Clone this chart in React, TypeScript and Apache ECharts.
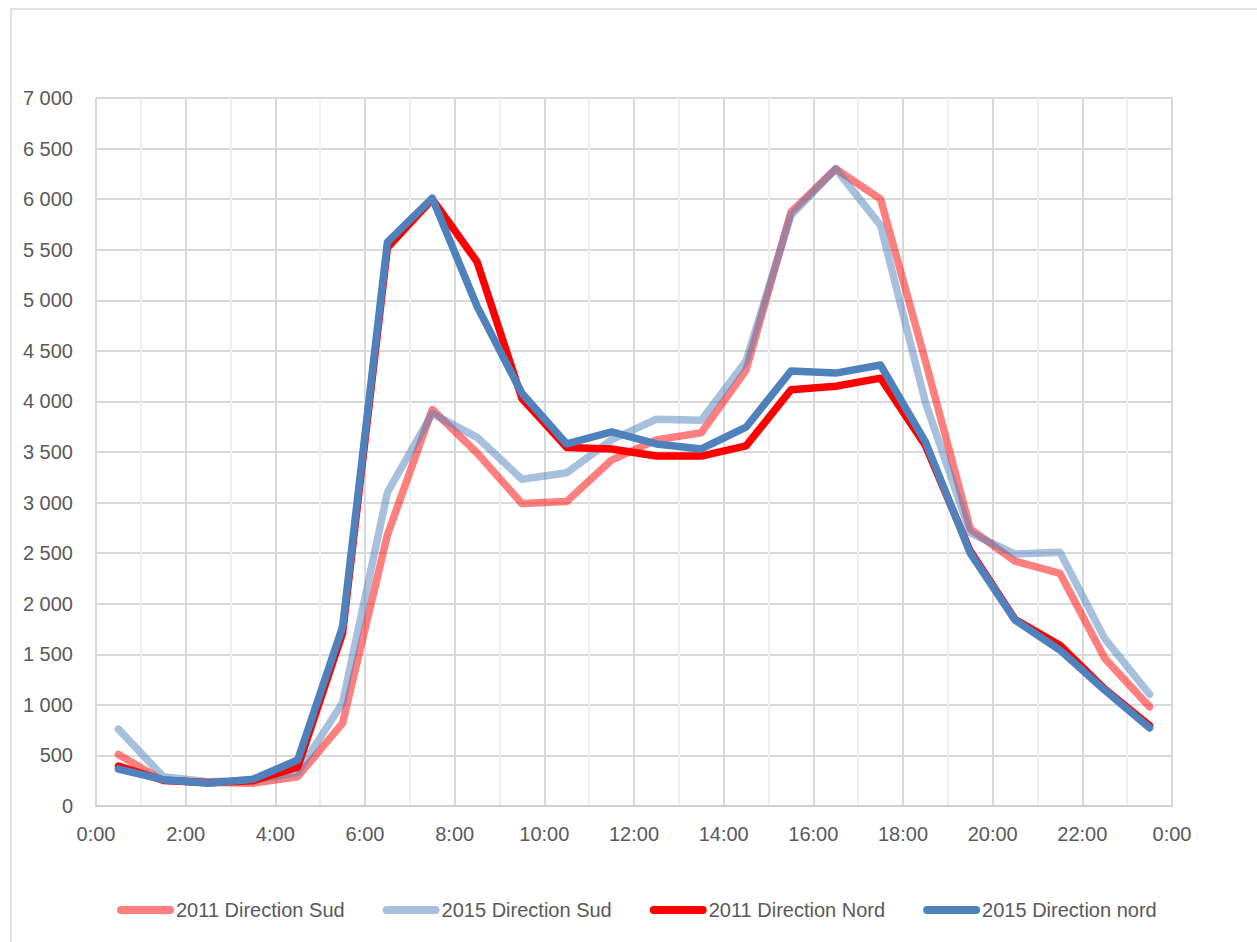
import React, { useEffect, useRef } from "react";
import * as echarts from "echarts";

// Hour of day at the middle of each hourly slot (0:30 ... 23:30)
const hours: number[] = [
  0.5, 1.5, 2.5, 3.5, 4.5, 5.5, 6.5, 7.5, 8.5, 9.5, 10.5, 11.5,
  12.5, 13.5, 14.5, 15.5, 16.5, 17.5, 18.5, 19.5, 20.5, 21.5, 22.5, 23.5,
];

const sud2011: number[] = [
  510, 250, 235, 225, 290, 820, 2680, 3920, 3490, 2990, 3010, 3420,
  3620, 3690, 4310, 5870, 6300, 6000, 4400, 2740, 2420, 2300, 1460, 980,
];
const sud2015: number[] = [
  760, 290, 240, 255, 330, 1020, 3100, 3880, 3645, 3230, 3295, 3620,
  3825, 3815, 4400, 5840, 6300, 5740, 3990, 2700, 2490, 2510, 1655, 1105,
];
const nord2011: number[] = [
  395, 255, 230, 250, 385, 1710, 5520, 6000, 5380, 4030, 3545, 3530,
  3460, 3460, 3560, 4115, 4150, 4230, 3565, 2520, 1845, 1590, 1155, 795,
];
const nord2015: number[] = [
  365, 260, 225, 265, 455, 1770, 5575, 6010, 4940, 4080, 3580, 3698,
  3580, 3530, 3745, 4300, 4280, 4360, 3600, 2500, 1838, 1542, 1145, 772,
];

const seriesNames: string[] = [
  "2011 Direction Sud",
  "2015 Direction Sud",
  "2011 Direction Nord",
  "2015 Direction nord",
];

const FONT = "'Liberation Sans Narrow', 'Arial Narrow', 'Liberation Sans', Arial, sans-serif";
const TEXT = "#595959";

const pair = (vals: number[]) => hours.map((h, i) => [h, vals[i]]);

// Rounded capsule used as the legend key
const CAPSULE = "path://M4,0 H53 A4,4 0 0 1 53,8 H4 A4,4 0 0 1 4,0 Z";

export default function App() {
  const ref = useRef<HTMLDivElement>(null);

  useEffect(() => {
    if (!ref.current) return;
    const chart = echarts.init(ref.current, undefined, { renderer: "svg" });

    const mk = (name: string, vals: number[], color: string) => ({
      name,
      type: "line",
      data: pair(vals),
      symbol: "none",
      color,
      lineStyle: { width: 7.5, color, cap: "round", join: "round" },
      z: 3,
    });

    chart.setOption({
      animation: false,
      backgroundColor: "#ffffff",
      textStyle: { fontFamily: FONT },
      graphic: [
        {
          type: "rect",
          shape: { x: 11, y: 9, width: 1400, height: 1100 },
          style: { fill: "none", stroke: "#d9d9d9", lineWidth: 1.5 },
          silent: true,
          z: -10,
        },
      ],
      grid: { left: 96, right: 85, top: 98, bottom: 136 },
      xAxis: {
        type: "value",
        min: 0,
        max: 24,
        interval: 2,
        axisLine: { show: true, lineStyle: { color: "#d0d0d0", width: 2 } },
        axisTick: { show: false },
        axisLabel: {
          color: TEXT,
          fontSize: 20,
          fontFamily: FONT,
          margin: 18,
          formatter: (v: number) => `${v % 24}:00`,
        },
        splitLine: { show: true, lineStyle: { color: "#d9d9d9", width: 2 } },
        minorTick: { show: false, splitNumber: 2 },
        minorSplitLine: { show: true, lineStyle: { color: "#efefef", width: 2 } },
      },
      yAxis: {
        type: "value",
        min: 0,
        max: 7000,
        interval: 500,
        axisLine: { show: false },
        axisTick: { show: false },
        axisLabel: {
          color: TEXT,
          fontSize: 20,
          fontFamily: FONT,
          margin: 23,
          formatter: (v: number) => String(v).replace(/\B(?=(\d{3})+(?!\d))/g, " "),
        },
        splitLine: { show: true, lineStyle: { color: "#d9d9d9", width: 2 } },
      },
      legend: {
        data: seriesNames,
        left: 112,
        top: 895,
        icon: CAPSULE,
        itemWidth: 57,
        itemHeight: 8,
        itemGap: 38,
        textStyle: { color: TEXT, fontSize: 20, fontFamily: FONT, padding: [0, 0, 0, -3] },
      },
      series: [
        mk(seriesNames[0], sud2011, "rgba(255,0,0,0.5)"),
        mk(seriesNames[1], sud2015, "rgba(79,129,189,0.5)"),
        mk(seriesNames[2], nord2011, "#ff0000"),
        mk(seriesNames[3], nord2015, "#4f81bd"),
      ],
    });

    return () => chart.dispose();
  }, []);

  return (
    <div
      ref={ref}
      style={{ position: "fixed", left: 0, top: 0, width: 1257, height: 942, background: "#fff" }}
    />
  );
}
